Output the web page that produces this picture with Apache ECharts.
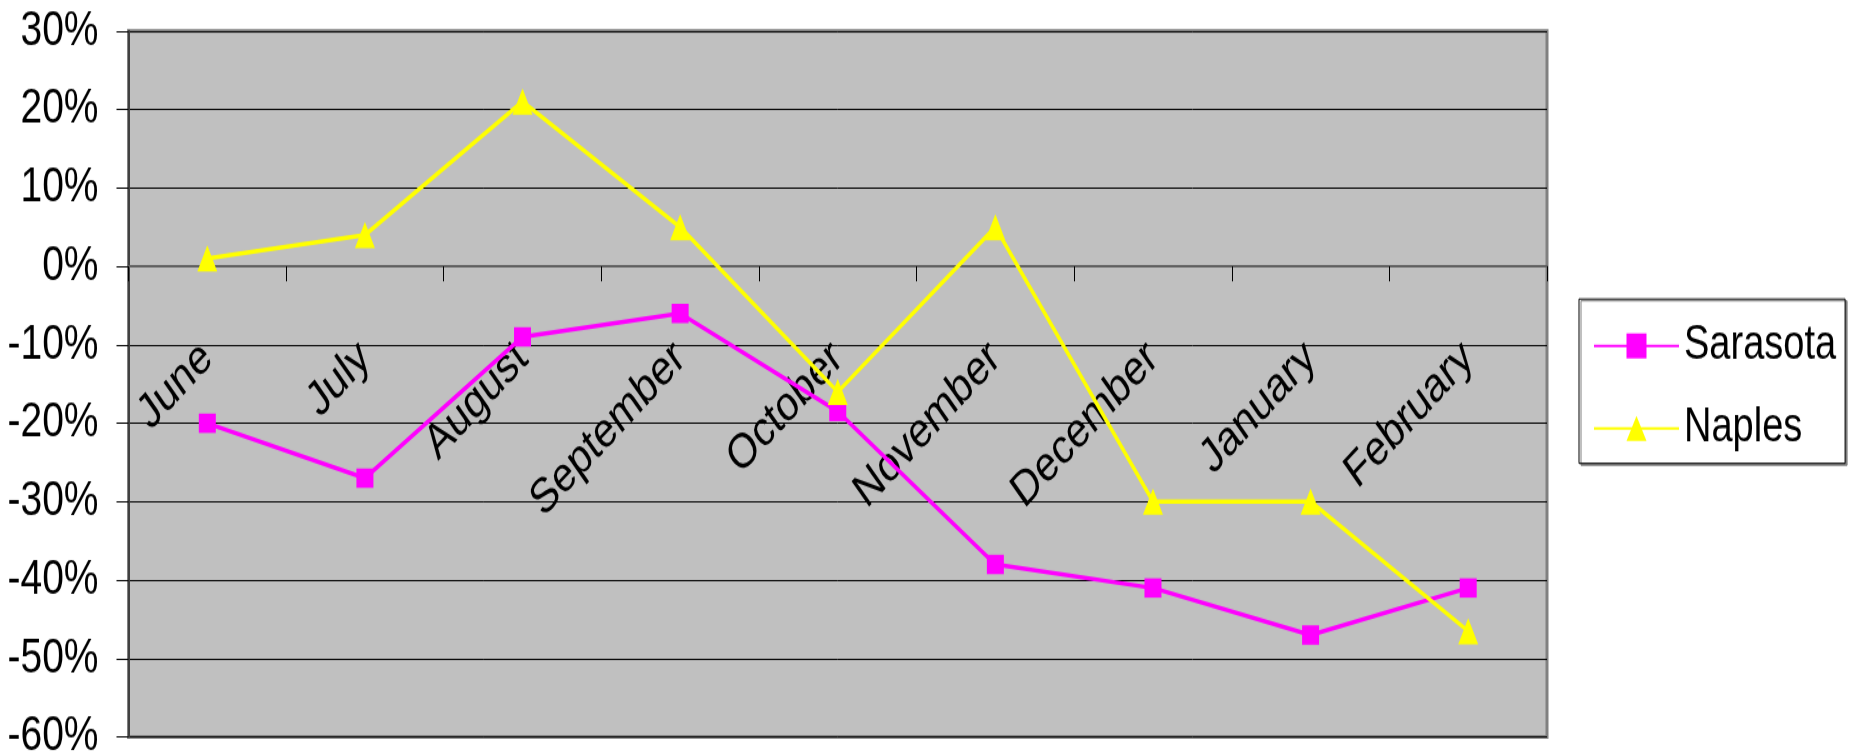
<!DOCTYPE html>
<html>
<head>
<meta charset="utf-8">
<title>Sarasota vs Naples</title>
<script src="https://cdn.jsdelivr.net/npm/echarts@6/dist/echarts.min.js"></script>
<style>
  html { margin: 0; padding: 0; overflow: hidden; background: #ffffff; }
  body { margin: 0; padding: 0; width: 1852px; height: 755px; background: #ffffff; }
  /* The chart is laid out at a shorter height and stretched vertically,
     giving the tall, narrow lettering of the printed version. */
  #chart { width: 1852px; height: 604px; transform: scaleY(1.25); transform-origin: 0 0; }
</style>
</head>
<body>
<div id="chart"></div>
<script>
// Month-over-month change, in percent
const months = ['June', 'July', 'August', 'September', 'October', 'November', 'December', 'January', 'February'];
const sarasota = [-20, -27, -9, -6, -18.5, -38, -41, -47, -41];
const naples = [1, 4, 21, 5, -16, 5, -30, -30, -46.5];

const FONT = '"Liberation Sans", Arial, sans-serif';

const chart = echarts.init(document.getElementById('chart'), null, { renderer: 'canvas' });

const option = {
  animation: false,
  backgroundColor: '#ffffff',
  grid: {
    left: 128.5,
    right: 305,
    top: 24.8,
    bottom: 14.4,
    containLabel: false,
    outerBoundsMode: 'none',
    show: true,
    backgroundColor: '#C0C0C0',
    borderColor: '#808080',
    borderWidth: 3
  },
  legend: {
    orient: 'vertical',
    left: 1579,
    top: 239.2,
    padding: [17.5, 9, 8, 14],
    itemGap: 26,
    itemWidth: 85,
    itemHeight: 25,
    borderColor: '#000000',
    borderWidth: 1,
    backgroundColor: '#ffffff',
    shadowColor: '#808080',
    shadowOffsetX: 2,
    shadowOffsetY: 1.5,
    shadowBlur: 0,
    textStyle: { fontFamily: FONT, fontSize: 38, color: '#000000', lineHeight: 40 },
    data: ['Sarasota', 'Naples']
  },
  xAxis: {
    type: 'category',
    data: months,
    boundaryGap: true,
    position: 'bottom',
    offset: 0,
    axisLine: { onZero: false, lineStyle: { color: '#606060', width: 2 } },
    axisTick: { show: true, inside: false, length: 12, lineStyle: { color: '#000000', width: 1 } },
    axisLabel: {
      rotate: 41,
      margin: 68,
      interval: 0,
      fontFamily: FONT,
      fontSize: 39,
      color: '#000000'
    },
    splitLine: { show: false }
  },
  yAxis: {
    type: 'value',
    min: -60,
    max: 30,
    interval: 10,
    axisLine: { show: true, lineStyle: { color: '#404040', width: 2 } },
    axisTick: { show: true, inside: false, length: 12, lineStyle: { color: '#000000', width: 1 } },
    axisLabel: {
      formatter: '{value}%',
      margin: 30,
      fontFamily: FONT,
      fontSize: 39,
      color: '#000000'
    },
    splitLine: { show: true, lineStyle: { color: '#000000', width: 1 } }
  },
  series: [
    {
      name: 'Sarasota',
      type: 'line',
      data: sarasota,
      symbol: 'rect',
      symbolSize: [17, 15.5],
      itemStyle: { color: '#FF00FF' },
      lineStyle: { color: '#FF00FF', width: 3.5 },
      z: 3
    },
    {
      name: 'Naples',
      type: 'line',
      data: naples,
      symbol: 'triangle',
      symbolSize: [20, 21],
      itemStyle: { color: '#FFFF00' },
      lineStyle: { color: '#FFFF00', width: 3.5 },
      z: 4
    }
  ]
};

chart.setOption(option);

// Move the category axis (line, ticks and labels) up to the 0% line.
const zeroY = chart.convertToPixel({ yAxisIndex: 0 }, 0);
const bottomY = chart.convertToPixel({ yAxisIndex: 0 }, -60);
chart.setOption({ xAxis: { offset: zeroY - bottomY } });
</script>
</body>
</html>
